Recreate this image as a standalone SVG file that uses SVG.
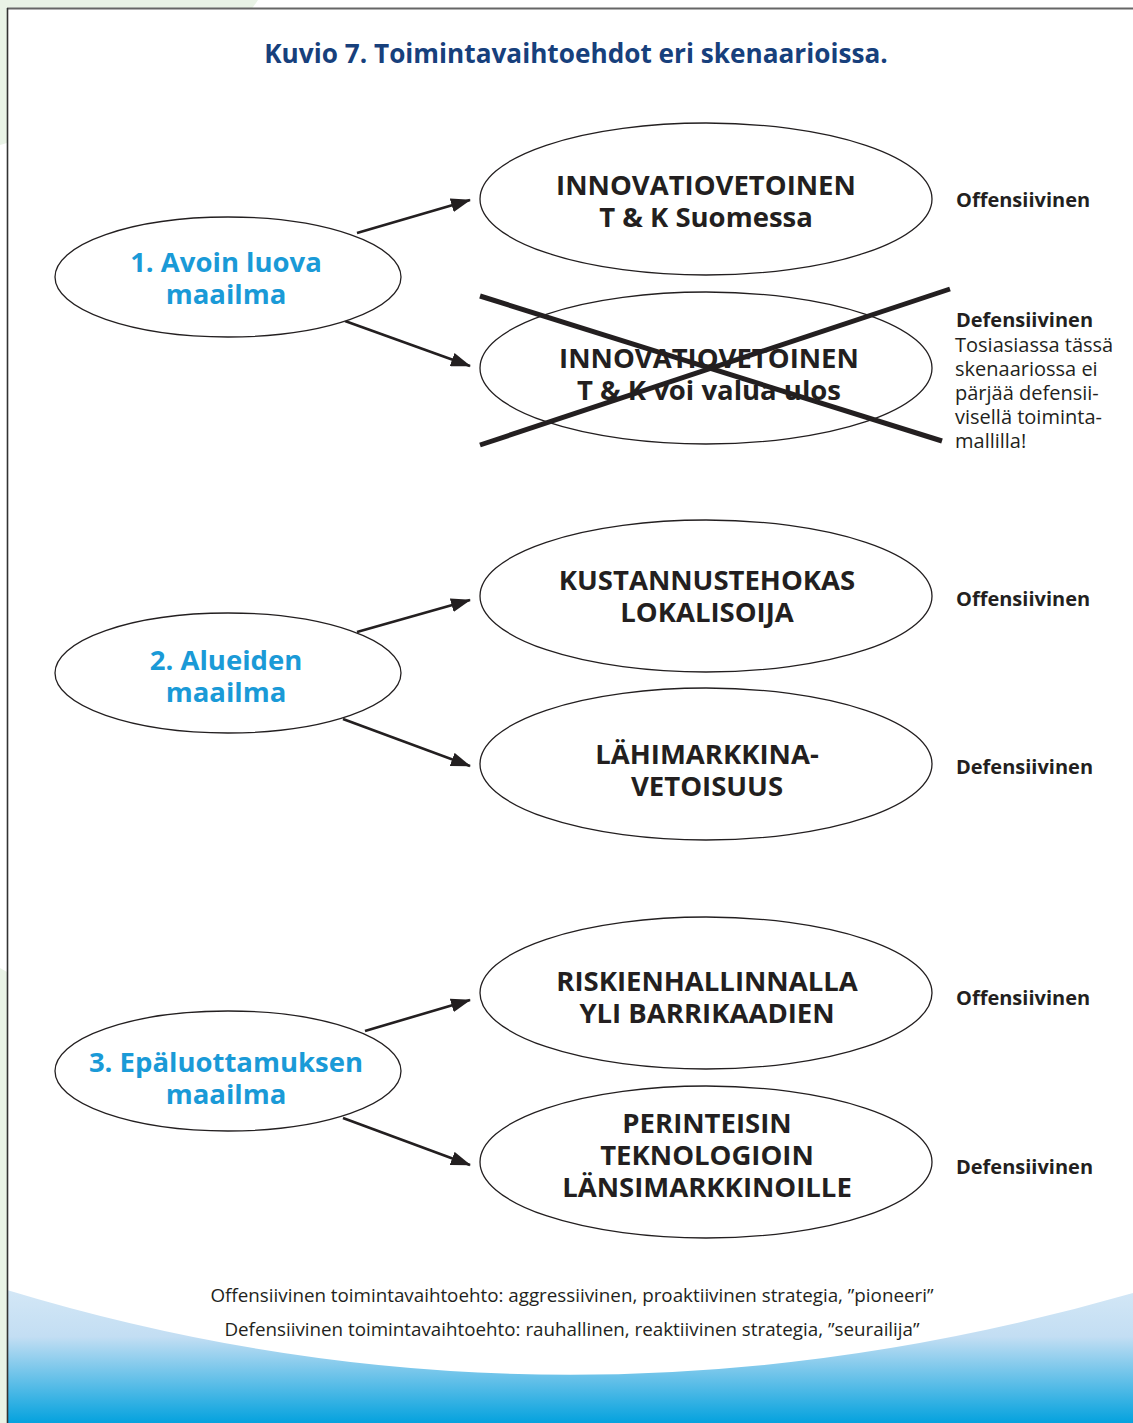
<svg xmlns="http://www.w3.org/2000/svg" width="1133" height="1423" viewBox="0 0 1133 1423">
  <defs>
    <linearGradient id="sea" x1="0" y1="1290" x2="0" y2="1423" gradientUnits="userSpaceOnUse">
      <stop offset="0" stop-color="#d3e7f6"/>
      <stop offset="0.35" stop-color="#c3def3"/>
      <stop offset="1" stop-color="#04a2de"/>
    </linearGradient>
    <marker id="arrow" viewBox="0 0 20 14" refX="19" refY="7" markerWidth="20" markerHeight="14" markerUnits="userSpaceOnUse" orient="auto">
      <path d="M0,0 L20,7 L0,14 z" fill="#231f20"/>
    </marker>
    <style>
      .ell { fill: #ffffff; stroke: #231f20; stroke-width: 1.3; }
      .conn { stroke: #231f20; stroke-width: 2.6; fill: none; marker-end: url(#arrow); }
      .cross { stroke: #231f20; stroke-width: 5; }
      .big { font-family: "Open Sans", "Liberation Sans", sans-serif; font-weight: 700; font-size: 27.5px; fill: #231f20; text-anchor: middle; }
      .scen { font-family: "Open Sans", "Liberation Sans", sans-serif; font-weight: 700; font-size: 27.5px; fill: #1a9ad7; text-anchor: middle; }
      .side { font-family: "Open Sans", "Liberation Sans", sans-serif; font-weight: 700; font-size: 20px; fill: #231f20; }
      .note { font-family: "Open Sans", "Liberation Sans", sans-serif; font-size: 20px; fill: #231f20; }
      .foot { font-family: "Open Sans", "Liberation Sans", sans-serif; font-size: 18.8px; fill: #231f20; text-anchor: middle; }
      .title { font-family: "Open Sans", "Liberation Sans", sans-serif; font-weight: 700; font-size: 26.2px; fill: #17407c; text-anchor: middle; }
    </style>
  </defs>

  <!-- page background and frame -->
  <rect x="0" y="0" width="1133" height="1423" fill="#ffffff"/>
  <path d="M0,0 H258 Q200,90 0,145 Z" fill="#e9f3e6"/>
  <path d="M0,968 L7,972 V1423 H0 Z" fill="#e9f3e6"/>
  <rect x="7" y="8" width="1140" height="1430" fill="#ffffff"/>
  <path d="M7,1290 Q560,1458 1133,1293 V1423 H7 Z" fill="url(#sea)"/>
  <line x1="7" y1="8.5" x2="1133" y2="8.5" stroke="#666666" stroke-width="2"/>
  <line x1="7.5" y1="8" x2="7.5" y2="1423" stroke="#333333" stroke-width="1.6"/>

  <text class="title" x="576" y="63">Kuvio 7. Toimintavaihtoehdot eri skenaarioissa.</text>

  <!-- connectors -->
  <g id="connectors">
    <line class="conn" x1="357" y1="233" x2="470" y2="200"/>
    <line class="conn" x1="345" y1="321" x2="470" y2="366"/>
    <line class="conn" x1="357" y1="632" x2="470" y2="600"/>
    <line class="conn" x1="343" y1="719" x2="470" y2="766"/>
    <line class="conn" x1="365" y1="1031" x2="470" y2="1000"/>
    <line class="conn" x1="343" y1="1118" x2="470" y2="1165"/>
  </g>

  <!-- scenarios -->
  <g id="scenario-1">
    <ellipse class="ell" cx="228" cy="277" rx="173" ry="60"/>
    <text class="scen" x="226" y="272">1. Avoin luova</text>
    <text class="scen" x="226" y="304">maailma</text>
  </g>
  <g id="scenario-2">
    <ellipse class="ell" cx="228" cy="673" rx="173" ry="60"/>
    <text class="scen" x="226" y="670">2. Alueiden</text>
    <text class="scen" x="226" y="702">maailma</text>
  </g>
  <g id="scenario-3">
    <ellipse class="ell" cx="228" cy="1071" rx="173" ry="60"/>
    <text class="scen" x="226" y="1072">3. Epäluottamuksen</text>
    <text class="scen" x="226" y="1104">maailma</text>
  </g>

  <!-- options -->
  <g id="option-1a">
    <ellipse class="ell" cx="706" cy="199" rx="226" ry="76"/>
    <text class="big" x="706" y="195">INNOVATIOVETOINEN</text>
    <text class="big" x="706" y="227">T &amp; K Suomessa</text>
  </g>
  <g id="option-1b">
    <ellipse class="ell" cx="706" cy="368" rx="226" ry="76"/>
    <text class="big" x="709" y="368">INNOVATIOVETOINEN</text>
    <text class="big" x="709" y="400">T &amp; K voi valua ulos</text>
    <line class="cross" x1="480" y1="296" x2="942" y2="441"/>
    <line class="cross" x1="480" y1="445" x2="950" y2="289"/>
  </g>
  <g id="option-2a">
    <ellipse class="ell" cx="706" cy="596" rx="226" ry="76"/>
    <text class="big" x="707" y="590">KUSTANNUSTEHOKAS</text>
    <text class="big" x="707" y="622">LOKALISOIJA</text>
  </g>
  <g id="option-2b">
    <ellipse class="ell" cx="706" cy="764" rx="226" ry="76"/>
    <text class="big" x="707" y="764">LÄHIMARKKINA-</text>
    <text class="big" x="707" y="796">VETOISUUS</text>
  </g>
  <g id="option-3a">
    <ellipse class="ell" cx="706" cy="993" rx="226" ry="76"/>
    <text class="big" x="707" y="991">RISKIENHALLINNALLA</text>
    <text class="big" x="707" y="1023">YLI BARRIKAADIEN</text>
  </g>
  <g id="option-3b">
    <ellipse class="ell" cx="706" cy="1162" rx="226" ry="76"/>
    <text class="big" x="707" y="1133">PERINTEISIN</text>
    <text class="big" x="707" y="1165">TEKNOLOGIOIN</text>
    <text class="big" x="707" y="1197">LÄNSIMARKKINOILLE</text>
  </g>

  <!-- strategy type labels -->
  <g id="labels">
    <text class="side" x="956" y="207">Offensiivinen</text>
    <text class="side" x="956" y="327">Defensiivinen</text>
    <text class="note" x="955" y="352">Tosiasiassa tässä</text>
    <text class="note" x="955" y="376">skenaariossa ei</text>
    <text class="note" x="955" y="400">pärjää defensii-</text>
    <text class="note" x="955" y="424">visellä toiminta-</text>
    <text class="note" x="955" y="448">mallilla!</text>
    <text class="side" x="956" y="606">Offensiivinen</text>
    <text class="side" x="956" y="774">Defensiivinen</text>
    <text class="side" x="956" y="1005">Offensiivinen</text>
    <text class="side" x="956" y="1174">Defensiivinen</text>
  </g>

  <text class="foot" x="572" y="1302">Offensiivinen toimintavaihtoehto: aggressiivinen, proaktiivinen strategia, ”pioneeri”</text>
  <text class="foot" x="572" y="1336">Defensiivinen toimintavaihtoehto: rauhallinen, reaktiivinen strategia, ”seurailija”</text>
</svg>
